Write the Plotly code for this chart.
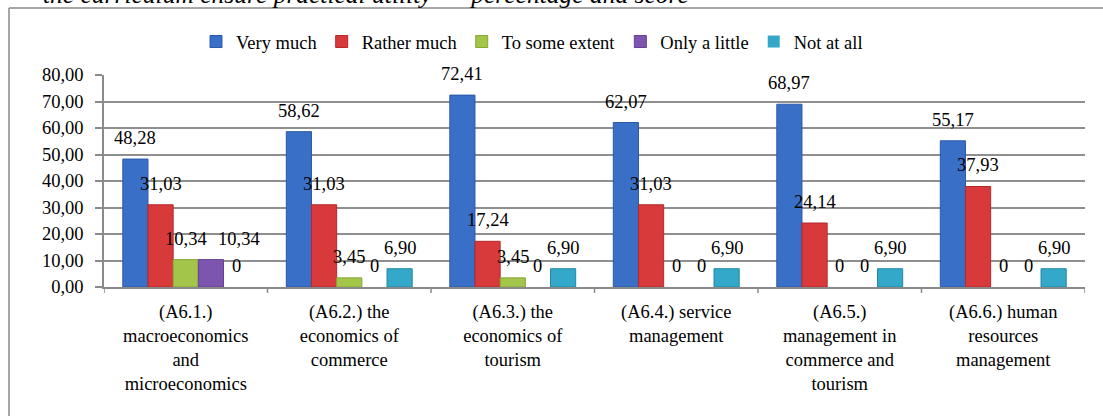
import plotly.graph_objects as go

# Survey categories (A6.x) and response shares in percent
categories = [
    "(A6.1.)<br>macroeconomics<br>and<br>microeconomics",
    "(A6.2.) the<br>economics of<br>commerce",
    "(A6.3.) the<br>economics of<br>tourism",
    "(A6.4.) service<br>management",
    "(A6.5.)<br>management in<br>commerce and<br>tourism",
    "(A6.6.) human<br>resources<br>management",
]
very_much = [48.28, 58.62, 72.41, 62.07, 68.97, 55.17]
rather_much = [31.03, 31.03, 17.24, 31.03, 24.14, 37.93]
to_some_extent = [10.34, 3.45, 3.45, 0, 0, 0]
only_a_little = [10.34, 0, 0, 0, 0, 0]
not_at_all = [0, 6.90, 6.90, 6.90, 6.90, 6.90]

y_ticks = [0, 10, 20, 30, 40, 50, 60, 70, 80]

series = [
    ("Very much", very_much, "#3a6fc8", "#2a5aa8"),
    ("Rather much", rather_much, "#d8393a", "#b42a2a"),
    ("To some extent", to_some_extent, "#a3c64a", "#86a636"),
    ("Only a little", only_a_little, "#7d55ae", "#654192"),
    ("Not at all", not_at_all, "#33a8c9", "#2388a6"),
]

FONT = "Liberation Serif"
FS = 18.5
BARGAP = 0.23
# horizontal pixel nudges for individual value labels: (category, series) -> px
label_nudge = {(0, 3): 28}

fig = go.Figure()
for name, vals, color, edge in series:
    fig.add_trace(go.Bar(
        name=name, x=list(range(len(categories))), y=vals,
        marker=dict(color=color,
                    line=dict(color=edge, width=[1 if v > 0 else 0 for v in vals])),
    ))

# value labels above each bar
n = len(series)
bw = (1 - BARGAP) / n
annotations = []
for k, (name, vals, color, edge) in enumerate(series):
    for i, v in enumerate(vals):
        txt = "0" if v == 0 else f"{v:.2f}".replace(".", ",")
        annotations.append(dict(
            x=i + (k - (n - 1) / 2) * bw, y=v, xref="x", yref="y",
            text=txt, showarrow=False, yanchor="middle", xanchor="center",
            yshift=21, xshift=label_nudge.get((i, k), 0),
            font=dict(family=FONT, size=FS, color="#000"),
        ))

W, H = 1103, 416
L, R, T, B = 104, 18, 75, 129
pw, ph = W - L - R, H - T - B


def px_x(p):
    return (p - L) / pw


def px_y(p):
    return (H - B - p) / ph


# caption line above the chart frame
annotations.append(dict(
    x=px_x(41), y=px_y(11), xref="paper", yref="paper",
    text="the curriculum ensure practical utility\u201d \u2013 percentage and score",
    showarrow=False, xanchor="left", yanchor="bottom",
    font=dict(family=FONT, size=25.5, color="#000", style="italic"),
))

shapes = [
    # chart frame (top and left edges visible)
    dict(type="line", xref="paper", yref="paper",
         x0=px_x(9), x1=px_x(W + 5), y0=px_y(8), y1=px_y(8),
         line=dict(color="#8a8a8a", width=1.5)),
    dict(type="line", xref="paper", yref="paper",
         x0=px_x(9), x1=px_x(9), y0=px_y(8), y1=px_y(H + 5),
         line=dict(color="#8a8a8a", width=1.5)),
]
# boundary tick marks between categories on the bottom axis
for b in range(len(categories) + 1):
    shapes.append(dict(type="line", xref="x", yref="paper",
                       x0=b - 0.5, x1=b - 0.5, y0=0, y1=-6 / ph,
                       line=dict(color="#8a8a8a", width=1.5)))

fig.update_layout(
    width=W, height=H,
    margin=dict(l=L, r=R, t=T, b=B),
    barmode="group", bargap=BARGAP, bargroupgap=0,
    paper_bgcolor="white", plot_bgcolor="white",
    separators=", ",
    font=dict(family=FONT, size=FS, color="#000"),
    showlegend=True,
    legend=dict(
        orientation="h", x=px_x(196), y=px_y(42), xanchor="left", yanchor="middle",
        font=dict(family=FONT, size=FS, color="#000"),
        itemwidth=30, bgcolor="rgba(0,0,0,0)",
    ),
    annotations=annotations,
    shapes=shapes,
)

fig.update_xaxes(
    type="linear",
    tickmode="array", tickvals=list(range(len(categories))), ticktext=categories,
    range=[-0.5, len(categories) - 0.5],
    showline=True, linecolor="#8a8a8a", linewidth=1.5,
    ticks="", showgrid=False, zeroline=False, ticklabelstandoff=7,
    tickfont=dict(family=FONT, size=FS, color="#000"),
)

fig.update_yaxes(
    range=[0, 80], tickmode="array", tickvals=y_ticks, tickformat=".2f",
    showline=True, linecolor="#8a8a8a", linewidth=1.5,
    ticks="outside", ticklen=7, tickcolor="#8a8a8a", tickwidth=1.5,
    showgrid=True, gridcolor="#8f8f8f", gridwidth=2,
    zeroline=False, ticklabelstandoff=8,
    tickfont=dict(family=FONT, size=FS, color="#000"),
)

fig.write_html("out.html")
